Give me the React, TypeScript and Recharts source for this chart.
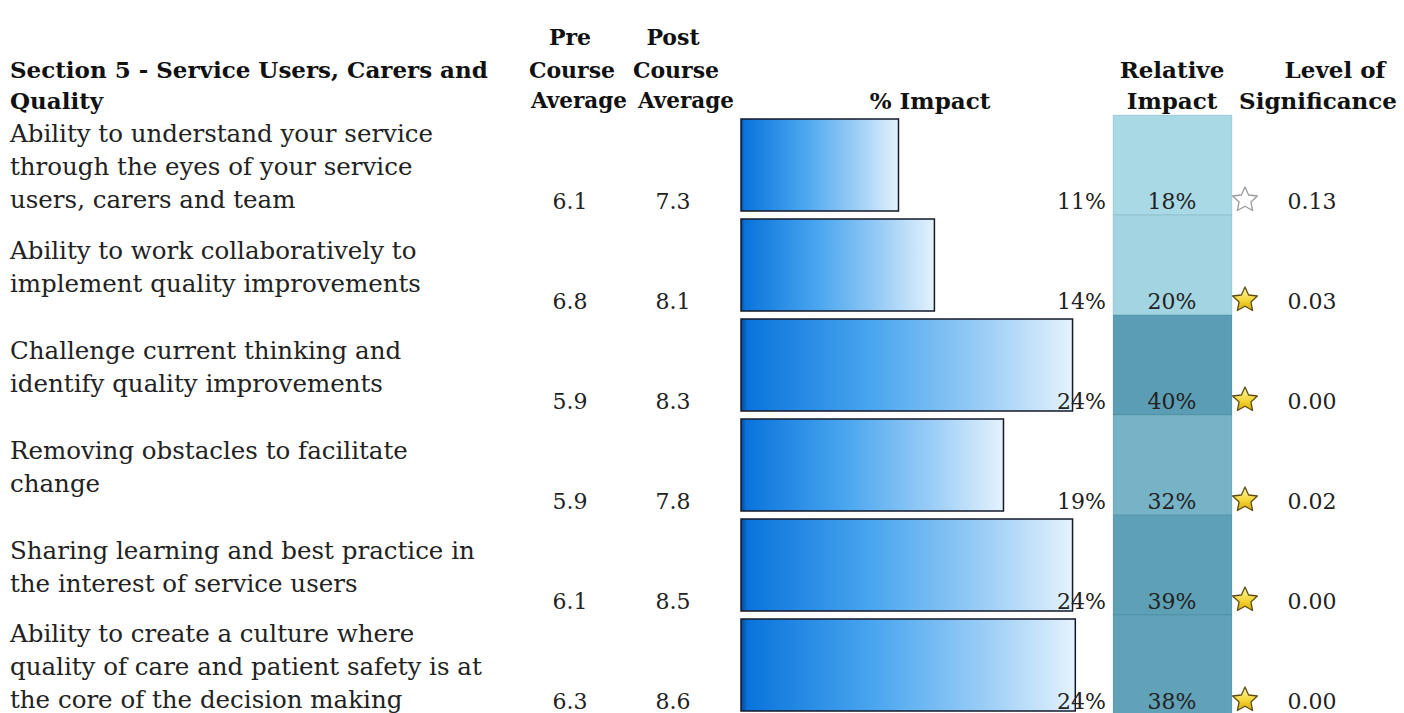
import React from 'react';
import { ComposedChart, Bar, XAxis, YAxis, LabelList } from 'recharts';

const questionLines: string[][] = [
  ['Ability to understand your service', 'through the eyes of your service', 'users, carers and team'],
  ['Ability to work collaboratively to', 'implement quality improvements'],
  ['Challenge current thinking and', 'identify quality improvements'],
  ['Removing obstacles to facilitate', 'change'],
  ['Sharing learning and best practice in', 'the interest of service users'],
  ['Ability to create a culture where', 'quality of care and patient safety is at', 'the core of the decision making'],
];
const preAverage = [6.1, 6.8, 5.9, 5.9, 6.1, 6.3];
const postAverage = [7.3, 8.1, 8.3, 7.8, 8.5, 8.6];
const impactPct = [11.4, 14.0, 24.0, 19.0, 24.0, 24.2];
const relativeImpact = [18, 20, 40, 32, 39, 38];
const significance = [0.13, 0.03, 0.0, 0.02, 0.0, 0.0];

const data = questionLines.map((lines, i) => ({
  label: lines[0] + ' ' + i,
  impact: impactPct[i],
}));

const FONT = '"DejaVu Serif", serif';
const W = 1404;
const H = 715;
const TOP = 115;
const ROW_H = (H - TOP) / data.length;

const lerp = (a: number, b: number, t: number) => Math.round(a + (b - a) * t);
const relColor = (v: number) => {
  const t = Math.max(0, Math.min(1, (v - 18) / 22));
  return `rgb(${lerp(170, 90, t)},${lerp(217, 157, t)},${lerp(230, 180, t)})`;
};

const starPoints = (cx: number, cy: number, ro: number, ri: number) => {
  const pts: string[] = [];
  for (let k = 0; k < 10; k++) {
    const r = k % 2 === 0 ? ro : ri;
    const a = -Math.PI / 2 + (k * Math.PI) / 5;
    pts.push(`${(cx + r * Math.cos(a)).toFixed(1)},${(cy + r * Math.sin(a)).toFixed(1)}`);
  }
  return pts.join(' ');
};

const textStyle = { fontFamily: FONT, fontSize: 22, fill: '#222' };
const labelStyle = { fontFamily: FONT, fontSize: 24.5, fill: '#222' };

const RowTick = (props: any) => {
  const { y, index } = props;
  const top = y - ROW_H / 2;
  const lines = questionLines[index];
  const offs = lines.length === 3 ? [18, 51, 84] : [35, 68];
  const sig = significance[index];
  return (
    <g>
      {lines.map((l, i) => (
        <text key={i} x={10} y={top + offs[i]} dominantBaseline="central" style={labelStyle}>
          {l}
        </text>
      ))}
      <text x={570} y={top + 86} textAnchor="middle" dominantBaseline="central" style={textStyle}>
        {preAverage[index].toFixed(1)}
      </text>
      <text x={673} y={top + 86} textAnchor="middle" dominantBaseline="central" style={textStyle}>
        {postAverage[index].toFixed(1)}
      </text>
      <rect x={1113} y={top} width={119} height={ROW_H} fill={relColor(relativeImpact[index])} stroke="rgba(20,70,90,0.12)" />
      <text x={1172} y={top + 86} textAnchor="middle" dominantBaseline="central" style={textStyle}>
        {relativeImpact[index]}%
      </text>
      <polygon
        points={starPoints(1245, top + 85, 13, 6.2)}
        fill={sig < 0.05 ? 'url(#starFill)' : '#fff'}
        stroke={sig < 0.05 ? '#5e4d12' : '#9a9a9a'}
        strokeWidth={1.3}
        strokeLinejoin="round"
      />
      <text x={1312} y={top + 86} textAnchor="middle" dominantBaseline="central" style={textStyle}>
        {sig.toFixed(2)}
      </text>
    </g>
  );
};

const PctLabel = (props: any) => {
  const { y, height, index } = props;
  return (
    <text x={1106} y={y + height - 10} textAnchor="end" dominantBaseline="central" style={textStyle}>
      {Math.round(impactPct[index])}%
    </text>
  );
};

const hdr = (text: string, left: number, top: number, align: 'left' | 'center' = 'center', size = 23) => (
  <div
    style={{
      position: 'absolute',
      left: align === 'center' ? left - 150 : left,
      top: top - 15,
      width: align === 'center' ? 300 : 700,
      textAlign: align,
      fontFamily: FONT,
      fontSize: size,
      fontWeight: 'bold',
      lineHeight: '30px',
      color: '#111',
      whiteSpace: 'nowrap',
    }}
  >
    {text}
  </div>
);

export default function App() {
  return (
    <div style={{ position: 'absolute', left: 0, top: 0, width: W, height: 713, overflow: 'hidden', background: '#fff' }}>
      {hdr('Section 5 - Service Users, Carers and', 10, 70, 'left')}
      {hdr('Quality', 10, 101, 'left')}
      {hdr('Pre', 570, 37, 'center', 22)}
      {hdr('Course', 572, 70, 'center', 22)}
      {hdr('Average', 579, 101, 'center', 21.5)}
      {hdr('Post', 673, 37, 'center', 22)}
      {hdr('Course', 676, 70, 'center', 22)}
      {hdr('Average', 686, 101, 'center', 21.5)}
      {hdr('% Impact', 930, 101)}
      {hdr('Relative', 1172, 70)}
      {hdr('Impact', 1172, 101)}
      {hdr('Level of', 1335, 70)}
      {hdr('Significance', 1318, 101)}
      <ComposedChart
        width={W}
        height={H}
        data={data}
        layout="vertical"
        margin={{ top: TOP, right: 290, bottom: 0, left: 0 }}
        barCategoryGap="4%"
      >
        <defs>
          <linearGradient id="barFill" x1="0" y1="0" x2="1" y2="0">
            <stop offset="0%" stopColor="#04489a" />
            <stop offset="2%" stopColor="#0a74dc" />
            <stop offset="40%" stopColor="#4aa6ef" />
            <stop offset="72%" stopColor="#98ccf6" />
            <stop offset="100%" stopColor="#e4f2fd" />
          </linearGradient>
          <linearGradient id="starFill" x1="0" y1="0" x2="0" y2="1">
            <stop offset="0%" stopColor="#fff7b0" />
            <stop offset="60%" stopColor="#f4d431" />
            <stop offset="100%" stopColor="#d9a90e" />
          </linearGradient>
        </defs>
        <XAxis type="number" domain={[0, 27]} hide />
        <YAxis
          type="category"
          dataKey="label"
          width={741}
          axisLine={false}
          tickLine={false}
          interval={0}
          tick={(p: any) => <RowTick {...p} />}
        />
        <Bar dataKey="impact" fill="url(#barFill)" stroke="#141a2a" strokeWidth={1.5} isAnimationActive={false}>
          <LabelList dataKey="impact" content={(p: any) => <PctLabel {...p} />} />
        </Bar>
      </ComposedChart>
    </div>
  );
}
